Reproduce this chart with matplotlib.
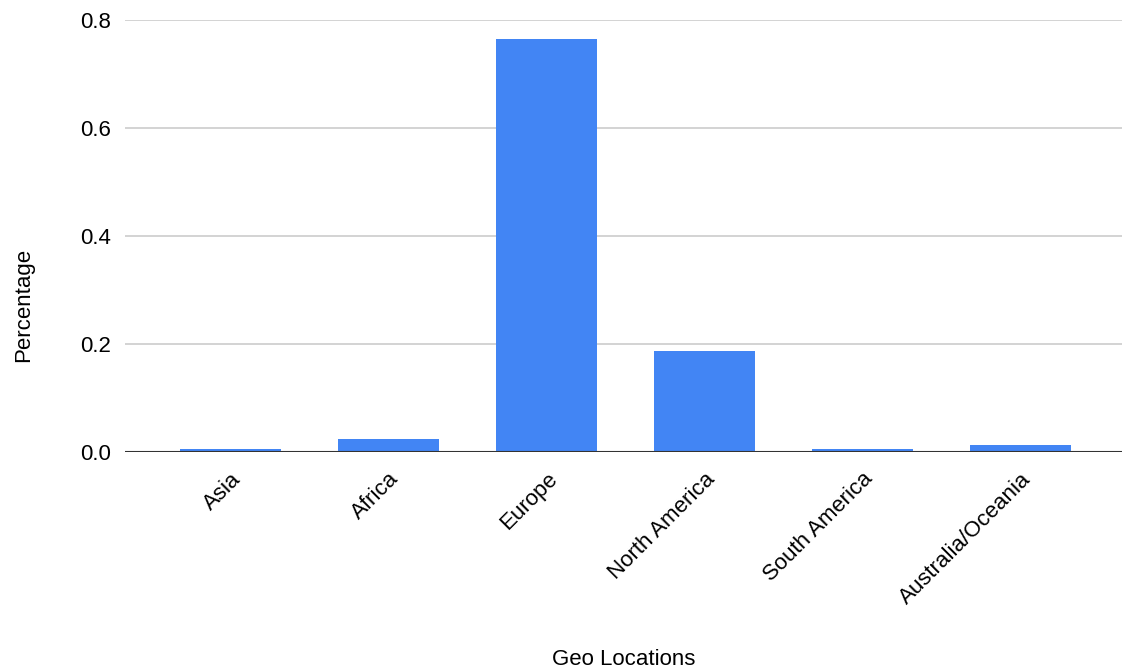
import matplotlib.pyplot as plt

plt.rcParams['font.family'] = ['Liberation Sans', 'DejaVu Sans']

regions = ["Asia", "Africa", "Europe", "North America", "South America", "Australia/Oceania"]
percentage = [0.0056, 0.0235, 0.766, 0.1875, 0.0056, 0.013]

fig = plt.figure(figsize=(11.22, 6.69), dpi=100)
ax = fig.add_axes([0.1114, 0.3244, 0.8886, 0.645])

x = range(len(regions))
ax.bar(x, percentage, width=0.64, color="#4285F4", zorder=3)

ax.set_xlim(-0.668, 5.643)
ax.set_ylim(0, 0.8)
ax.set_yticks([0, 0.2, 0.4, 0.6, 0.8])
ax.set_yticklabels(["0.0", "0.2", "0.4", "0.6", "0.8"], fontsize=16)
ax.set_xticks(list(x))
ax.set_xticklabels(regions, rotation=45, ha="right", rotation_mode="anchor", fontsize=16)

ax.grid(axis="y", color="#cccccc", linewidth=1.2, zorder=0)
ax.axhline(0, color="#333333", linewidth=1.5, zorder=4)
for s in ax.spines.values():
    s.set_visible(False)
ax.tick_params(axis="y", length=0, pad=10)
ax.tick_params(axis="x", length=0, pad=12)

ax.set_xlabel("Geo Locations", fontsize=16)
ax.set_ylabel("Percentage", fontsize=16)
ax.xaxis.set_label_coords(0.5, -0.457)
ax.yaxis.set_label_coords(-0.0915, 0.34)

plt.savefig("out.png", dpi=100)
